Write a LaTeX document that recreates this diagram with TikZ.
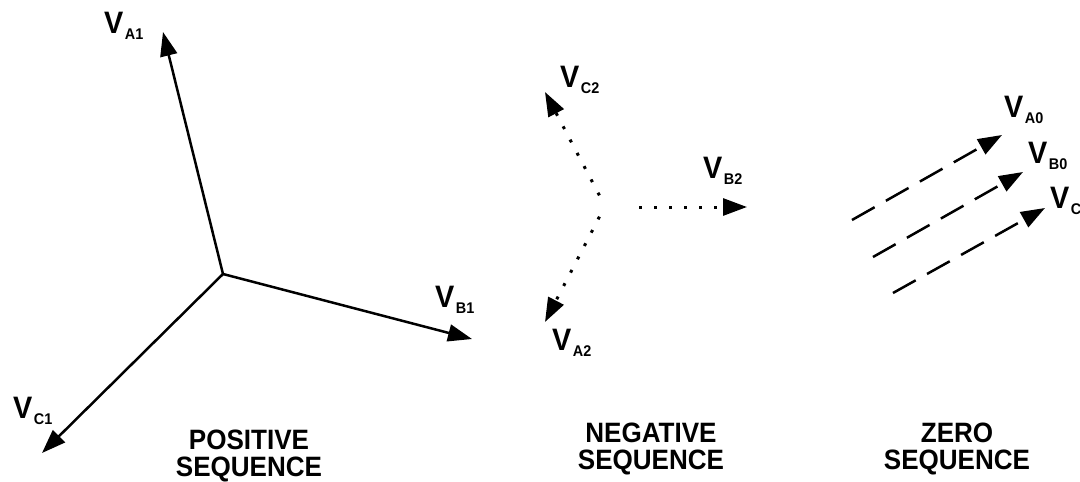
\documentclass[tikz,border=0pt]{standalone}
\usepackage{fontspec}
\setmainfont{Liberation Sans}[FakeStretch=0.93]
\usetikzlibrary{arrows.meta}
\newcommand\Vlab[1]{\fontsize{31}{31}\selectfont\bfseries V\hspace{1.5pt}\raisebox{-6pt}{\fontsize{15.5}{15.5}\selectfont\bfseries #1}}
\begin{document}
\begin{tikzpicture}[x=1pt,y=-1pt,
  vec/.style={line width=2.5pt,-{Triangle[length=24pt,width=17pt]}},
  dotvec/.style={vec,line width=3pt,dash pattern=on 3pt off 12pt,dash phase=3pt},
  dashvec/.style={vec,dash pattern=on 26pt off 13pt},
  vlab/.style={anchor=base west,inner sep=0pt},
  seqlab/.style={anchor=north,inner sep=0pt,align=center,font=\fontsize{28}{26.5}\selectfont\bfseries}]
\useasboundingbox (0,0) rectangle (1080,482);
% positive sequence
\coordinate (P) at (223,274);
\coordinate (A1) at (163,32);
\coordinate (B1) at (472,339);
\coordinate (C1) at (42,453);
\draw[vec] (P) -- (A1);
\draw[vec] (P) -- (B1);
\draw[vec] (P) -- (C1);
\node[vlab] (lA1) at (104,33) {\Vlab{A1}};
\node[vlab] (lB1) at (435,307) {\Vlab{B1}};
\node[vlab] (lC1) at (13,418) {\Vlab{C1}};
% negative sequence
\coordinate (N) at (605,206);
\coordinate (C2) at (545,92);
\coordinate (A2) at (545,322);
\coordinate (NB) at (627,207);
\coordinate (B2) at (747,207);
\draw[dotvec] (N) -- (C2);
\draw[dotvec] (N) -- (A2);
\draw[dotvec] (NB) -- (B2);
\node[vlab] (lC2) at (560,87) {\Vlab{C2}};
\node[vlab] (lB2) at (703,178) {\Vlab{B2}};
\node[vlab] (lA2) at (552,350) {\Vlab{A2}};
% zero sequence
\coordinate (ZA) at (852,220);
\coordinate (A0) at (1002,135);
\coordinate (ZB) at (873,257);
\coordinate (B0) at (1023,172);
\coordinate (ZC) at (893,293);
\coordinate (C0) at (1045,208);
\draw[dashvec] (ZA) -- (A0);
\draw[dashvec] (ZB) -- (B0);
\draw[dashvec] (ZC) -- (C0);
\node[vlab] (lA0) at (1004,117) {\Vlab{A0}};
\node[vlab] (lB0) at (1028,163) {\Vlab{B0}};
\node[vlab] (lC0) at (1050,208) {\Vlab{C0}};
% captions
\node[seqlab] (pos) at (249,430) {POSITIVE\\SEQUENCE};
\node[seqlab] (neg) at (651,423) {NEGATIVE\\SEQUENCE};
\node[seqlab] (zer) at (957,423) {ZERO\\SEQUENCE};
\end{tikzpicture}
\end{document}
